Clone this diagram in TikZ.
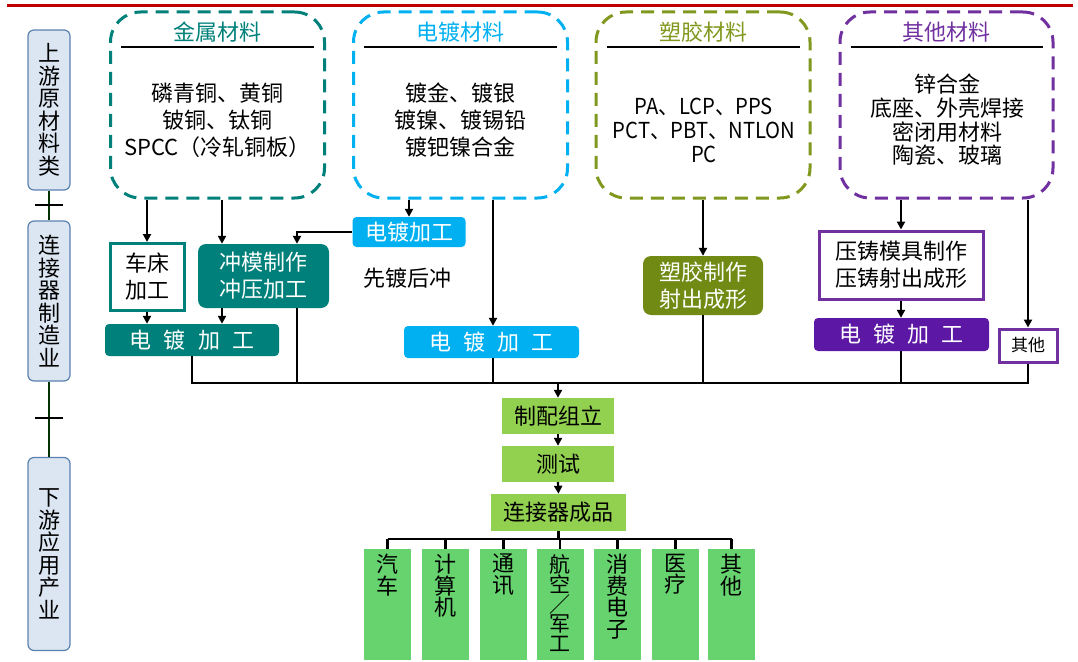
\documentclass[tikz,border=0pt]{standalone}
\usepackage{fontspec}
\setmainfont{Noto Sans CJK SC}
\usetikzlibrary{arrows.meta}
\definecolor{tealc}{RGB}{0,128,122}
\definecolor{cyanc}{RGB}{0,176,240}
\definecolor{olivec}{RGB}{128,152,30}
\definecolor{olivef}{RGB}{112,138,20}
\definecolor{purpc}{RGB}{112,48,160}
\definecolor{purpf}{RGB}{92,24,164}
\definecolor{lbluef}{RGB}{220,230,242}
\definecolor{lblued}{RGB}{90,130,175}
\definecolor{greenA}{RGB}{146,208,80}
\definecolor{greenB}{RGB}{102,211,110}
\definecolor{redc}{RGB}{192,0,0}
\definecolor{gline}{RGB}{0,50,0}
\newcommand\tzf{\fontsize{22pt}{27pt}\selectfont}
\begin{document}
\begin{tikzpicture}[x=1pt,y=-1pt,
  dbox/.style={draw=#1, line width=3pt, dash pattern=on 13pt off 8pt, rounded corners=30pt, minimum width=214pt, minimum height=186pt, inner sep=0pt},
  ttl/.style={text=#1, font=\tzf, inner sep=0pt},
  body/.style={font=\tzf, align=center, inner sep=0pt},
  side/.style={draw=lblued, fill=lbluef, line width=1.2pt, rounded corners=6pt, minimum width=42pt, inner sep=0pt, font=\fontsize{22pt}{22.5pt}\selectfont, align=center},
  fbox/.style={fill=#1, text=white, font=\tzf, align=center, inner sep=0pt},
  obox/.style={draw=#1, line width=3pt, fill=white, font=\tzf, align=center, inner sep=0pt},
  gbox/.style={fill=greenA, font=\tzf, inner sep=0pt},
  appbox/.style={fill=greenB, minimum width=47pt, minimum height=111pt, inner sep=0pt},
  apptxt/.style={font=\fontsize{22pt}{21.5pt}\selectfont, align=center, inner sep=0pt, anchor=north},
  arr/.style={line width=2.2pt, -{Triangle[length=8pt,width=8pt]}},
  ln/.style={line width=2.2pt},
  bus/.style={line width=1.6pt},
]
\useasboundingbox (0,0) rectangle (1078,661);
\draw[redc, line width=3pt] (7,6) -- (1073,6);

% left column
\node[side, minimum height=160pt] (L1) at (49,110) {上\\游\\原\\材\\料\\类};
\node[side, minimum height=160pt] (L2) at (49,301) {连\\接\\器\\制\\造\\业};
\node[side, minimum height=193pt] (L3) at (49,554) {下\\游\\应\\用\\产\\业};
\draw[gline, line width=1.8pt] (L1.south) -- (L2.north);
\draw[gline, line width=1.8pt] (L2.south) -- (L3.north);
\draw[line width=1.8pt] (35,205) -- (63,205);
\draw[line width=1.8pt] (35,418) -- (63,418);

% material boxes
\node[dbox=tealc] (metal) at (217.5,105) {};
\node[dbox=cyanc] (plat) at (460.5,105) {};
\node[dbox=olivec] (plast) at (703,105) {};
\node[dbox=purpc, minimum width=213pt] (other) at (946.5,105) {};
\node[ttl=tealc] (metalT) at (217.5,32) {金属材料};
\node[ttl=cyanc] (platT) at (460.5,32) {电镀材料};
\node[ttl=olivec] (plastT) at (703,32) {塑胶材料};
\node[ttl=purpc] (otherT) at (946.5,32) {其他材料};
\foreach \b in {metal,plat,plast,other}{
  \draw[line width=1.8pt] ([xshift=12pt]\b.west |- 0,47) -- ([xshift=-12pt]\b.east |- 0,47);
}
\node[body] (metalB) at (217.5,120) {磷青铜、黄铜\\铍铜、钛铜\\SPCC（冷轧铜板）};
\node[body] (platB) at (460.5,120) {镀金、镀银\\镀镍、镀锡铅\\镀钯镍合金};
\node[body, font=\fontsize{22pt}{24pt}\selectfont, xscale=0.92] (plastB) at (704,130) {PA、LCP、PPS\\PCT、PBT、NTLON\\PC};
\node[body, font=\fontsize{22pt}{23.7pt}\selectfont] (otherB) at (947,120) {锌合金\\底座、外壳焊接\\密闭用材料\\陶瓷、玻璃};

% manufacturing
\node[obox=tealc, minimum width=74pt, minimum height=67pt, align=left] (lathe) at (147,277) {车床\\加工};
\node[fbox=tealc, rounded corners=8pt, minimum width=131pt, minimum height=64pt] (punch) at (263.5,276) {冲模制作\\冲压加工};
\node[fbox=tealc, rounded corners=4pt, minimum width=174pt, minimum height=32pt] (tplate) at (192,340) {电\hspace{0.55em}镀\hspace{0.55em}加\hspace{0.55em}工};
\node[fbox=cyanc, rounded corners=4pt, minimum width=113pt, minimum height=30pt] (cplateS) at (409,232) {电镀加工};
\node[font=\tzf, inner sep=0pt] (xdhc) at (407,278) {先镀后冲};
\node[fbox=cyanc, rounded corners=4pt, minimum width=175pt, minimum height=32pt] (cplate) at (491.5,342) {电\hspace{0.55em}镀\hspace{0.55em}加\hspace{0.55em}工};
\node[fbox=olivef, rounded corners=8pt, minimum width=120pt, minimum height=59pt] (mold) at (703,285.5) {塑胶制作\\射出成形};
\node[obox=purpc, minimum width=164pt, minimum height=68pt] (die) at (901,265) {压铸模具制作\\压铸射出成形};
\node[fbox=purpf, rounded corners=4pt, minimum width=175pt, minimum height=33pt] (pplate) at (901.5,334.5) {电\hspace{0.55em}镀\hspace{0.55em}加\hspace{0.55em}工};
\node[obox=purpc, minimum width=58pt, minimum height=33pt, font=\fontsize{17pt}{20pt}\selectfont] (oth) at (1028,345.5) {其他};

\coordinate (xP) at (222,0);
\coordinate (xQ) at (297,0);
\coordinate (xR) at (493,0);
\coordinate (busy) at (0,383);

\draw[arr] (metal.south -| lathe) -- (lathe.north);
\draw[arr] (metal.south -| xP) -- (punch.north -| xP);
\draw[arr] (lathe.south) -- (lathe.south |- tplate.north);
\draw[arr] (punch.south -| xP) -- (tplate.north -| xP);
\draw[arr] (plat.south -| cplateS) -- (cplateS.north);
\draw[ln] (cplateS.west) -- (cplateS.west -| xQ) -- ++(0,2);
\draw[arr] (cplateS.west -| xQ) -- (punch.north -| xQ);
\draw[arr] (plat.south -| xR) -- (cplate.north -| xR);
\draw[arr] (plast.south -| mold) -- (mold.north);
\draw[arr] (other.south -| die) -- (die.north);
\draw[arr] (die.south) -- (pplate.north -| die);
\draw[arr] (other.south -| oth) -- (oth.north);

% bus
\draw[bus] (tplate.south) -- (tplate.south |- busy) -- (oth.south |- busy) -- (oth.south);
\draw[ln] (punch.south -| xQ) -- (xQ |- busy);
\draw[ln] (cplate.south -| xR) -- (xR |- busy);
\draw[ln] (mold.south) -- (mold.south |- busy);
\draw[ln] (pplate.south -| die) -- (die.south |- busy);

% assembly
\node[gbox, minimum width=112pt, minimum height=36pt] (asm) at (558,416) {制配组立};
\node[gbox, minimum width=112pt, minimum height=36pt] (tst) at (558,464) {测试};
\node[gbox, minimum width=135pt, minimum height=37pt] (prod) at (558.5,512.5) {连接器成品};
\draw[arr] (asm.north |- busy) -- (asm.north);
\draw[arr] (asm.south) -- (tst.north);
\draw[arr] (tst.south) -- (prod.north);

% applications
\node[appbox] (a1) at (387.5,604.5) {};
\node[appbox] (a2) at (445.5,604.5) {};
\node[appbox] (a3) at (503.5,604.5) {};
\node[appbox] (a4) at (560,604.5) {};
\node[appbox] (a5) at (617.5,604.5) {};
\node[appbox] (a6) at (675.5,604.5) {};
\node[appbox] (a7) at (731.5,604.5) {};
\node[apptxt] (t1) at (387.5,554) {汽\\车};
\node[apptxt] (t2) at (445.5,554) {计\\算\\机};
\node[apptxt] (t3) at (503.5,554) {通\\讯};
\node[apptxt, font=\fontsize{21pt}{19.5pt}\selectfont] (t4) at (560,554) {航\\空\\／\\军\\工};
\node[apptxt] (t5) at (617.5,554) {消\\费\\电\\子};
\node[apptxt] (t6) at (675.5,554) {医\\疗};
\node[apptxt] (t7) at (731.5,554) {其\\他};
\coordinate (treey) at (0,539);
\draw[ln] (prod.south) -- (prod.south |- treey);
\draw[ln] (a1.north |- treey) -- (a7.north |- treey);
\foreach \a in {a1,a2,a3,a4,a5,a6,a7}{
  \draw[ln] (\a.north |- treey) -- (\a.north);
}
\end{tikzpicture}
\end{document}
